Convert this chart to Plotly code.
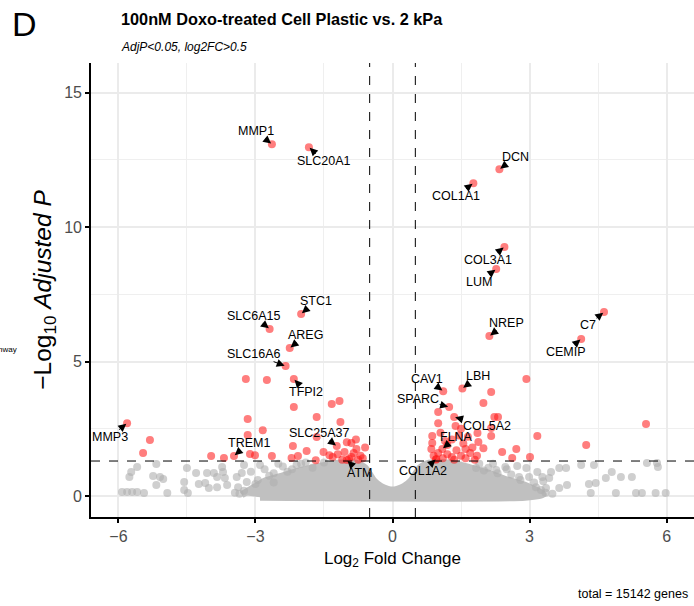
import plotly.graph_objects as go

# ---------------- data ----------------
# labeled significant genes (log2FC, -log10 adjP)
lab_genes = ["MMP1", "SLC20A1", "DCN", "COL1A1", "COL3A1", "LUM", "NREP", "C7", "CEMIP",
             "STC1", "SLC6A15", "AREG", "SLC16A6", "TFPI2", "MMP3", "TREM1", "SLC25A37",
             "ATM", "CAV1", "LBH", "SPARC", "COL5A2", "FLNA", "COL1A2"]
lab_fc = [-2.64, -1.83, 2.34, 1.77, 2.45, 2.27, 2.12, 4.63, 4.13,
          -2.00, -2.69, -2.25, -2.34, -2.16, -5.81, -3.47, -1.22,
          -1.00, 1.11, 1.53, 1.24, 1.35, 1.09, 0.96]
lab_p = [13.08, 12.97, 12.15, 11.63, 9.26, 8.44, 5.95, 6.84, 5.84,
         6.77, 6.21, 5.50, 4.83, 4.35, 2.71, 1.49, 1.86,
         1.34, 3.90, 4.00, 3.31, 2.94, 1.75, 1.38]

# other significant genes (red)
sig_fc = [-5.31, -5.46, -3.21, -2.75, -2.16, -1.33, -1.16, -1.66, -1.14, -3.17, -2.84, -3.17,
          -3.97, -3.69, -3.12, -3.01, -2.64, -2.21, -2.07, -1.88, -2.18, -1.66, -1.51, -1.31,
          -1.00, -0.90, -0.79, -1.05, -0.90, -1.68, -1.38, -0.70, -0.75, -0.65, -0.85, -1.10,
          -0.95, -0.60, -1.20, -0.80,
          2.93, 2.16, 1.99, 5.55, 4.24, 3.17, 3.01, 2.71, 2.40, 2.62, 2.23, 2.31, 2.16, 2.16,
          1.99, 1.88, 1.86, 1.38, 1.00, 1.00, 0.87, 0.87, 0.90, 1.00, 1.10, 1.20, 1.30, 1.40,
          1.50, 1.60, 1.70, 1.20, 1.30, 1.45, 1.55, 1.65, 1.75, 1.85, 1.05, 0.95, 1.35, 1.80,
          1.15, 1.50, 0.85, 1.60]
sig_p = [2.08, 1.60, 4.35, 4.31, 3.31, 3.42, 3.53, 2.94, 2.75, 2.86, 2.45, 2.27,
         1.49, 1.41, 1.56, 1.52, 1.49, 1.41, 1.49, 1.67, 1.86, 2.19, 1.64, 1.45,
         2.00, 1.97, 1.75, 1.64, 1.45, 1.33, 1.52, 1.50, 1.35, 1.40, 1.60, 1.35,
         1.38, 1.80, 1.55, 2.10,
         4.35, 3.87, 3.46, 2.68, 1.90, 2.23, 1.45, 1.75, 1.64, 1.41, 2.94, 2.94, 2.53, 2.23,
         1.78, 2.01, 2.34, 2.60, 3.12, 2.71, 2.23, 1.97, 1.50, 1.60, 1.40, 1.55, 1.45, 1.70,
         1.50, 1.40, 1.60, 1.90, 2.10, 2.25, 1.95, 2.20, 1.80, 1.50, 2.35, 1.35, 1.35, 1.35,
         2.05, 2.50, 1.75, 1.75]

# non-significant genes, scattered (grey)
ns_fc = [-5.76, -5.72, -5.59, -5.17, -5.24, -5.09, -5.02, -5.17, -5.92, -5.81, -5.70, -5.59,
         -5.44, -4.93, -4.50, -4.56, -4.56, -4.48, -4.30, -4.24, -4.10, -4.06, -4.02, -3.91,
         -3.84, -3.73, -3.71, -3.67, -3.62, -3.84, -3.41, -3.30, -3.25, -3.38, -3.19,
         -3.10, -2.95, -2.80, -2.60, -2.40, -2.20, -2.00,
         -2.90, -2.70, -2.50, -2.30, -2.10, -1.90, -1.75, -1.50, -3.00, -2.60,
         -3.35, -3.25, -3.45,
         1.83, 2.27, 2.47, 2.73, 2.93, 3.17, 3.47, 3.65, 3.80, 4.13, 4.41, 4.67, 4.80, 5.00,
         5.24, 5.57, 5.79, 5.81, 5.33, 5.46, 5.76, 5.98, 4.89, 4.34, 4.30, 4.45, 3.82, 3.65,
         3.36, 3.14, 3.28, 2.99, 3.43, 2.77,
         1.90, 2.10, 2.30, 2.60, 2.80, 2.20, 2.50, 3.10, 3.30, 2.00,
         3.35, 3.50, 3.25]
ns_p = [0.71, 0.89, 1.08, 1.19, 0.74, 0.71, 0.63, 0.41, 0.15, 0.15, 0.15, 0.15,
        0.11, 0.11, 1.04, 0.52, 0.22, 0.11, 0.86, 0.45, 0.48, 0.86, 0.30, 0.86,
        0.71, 1.08, 0.89, 0.67, 0.41, 0.33, 0.71, 0.86, 1.15, 0.33, 0.52,
        0.90, 0.60, 1.00, 0.85, 1.10, 1.00, 1.20,
        1.15, 0.75, 1.20, 0.90, 1.15, 1.25, 1.05, 1.25, 0.45, 0.50,
        0.08, 0.20, 0.12,
        1.04, 0.97, 1.08, 1.12, 1.04, 0.89, 0.89, 1.04, 1.04, 1.15, 1.15, 0.67, 0.89, 0.71,
        0.71, 1.23, 1.23, 1.08, 0.11, 0.11, 0.11, 0.11, 0.11, 0.11, 0.45, 0.48, 0.41, 0.30,
        0.30, 0.33, 0.71, 0.71, 0.67, 0.71,
        1.20, 1.05, 0.85, 0.80, 0.60, 1.20, 1.00, 0.50, 0.55, 0.95,
        0.12, 0.08, 0.22]

# outline of the dense non-significant cloud
core_fc = [-3.3, -3.0, -2.8, -2.4, -2.0, -1.6, -1.2, -0.8, -0.6, -0.5, -0.4, -0.25, -0.1,
           0.0, 0.1, 0.25, 0.4, 0.5, 0.6, 0.8, 1.3, 1.7, 2.1, 2.5, 2.9, 3.1, 3.3, 2.9, -2.9]
core_p = [0.05, 0.35, 0.55, 0.75, 0.95, 1.10, 1.22, 1.22, 1.05, 0.80, 0.55, 0.35, 0.25,
          0.22, 0.25, 0.35, 0.55, 0.80, 1.05, 1.22, 1.22, 1.05, 0.85, 0.60, 0.40, 0.25,
          0.05, -0.05, -0.05]

# label offsets (pixels) of text centre relative to its point
lab_ax = [-16, 15, 16, -17, -16, -17, 17, -16, -15, 15, -16, 16, -32, 12, -17, 15, -17, 13,
          -16, 16, -31, 33, 14, -13]
lab_ay = [-13, 14, -12, 13, 13, 13, -13, 13, 13, -13, -13, -13, -12, 13, 14, -13, -13, 13,
          -12, -12, -8, 9, -12, 12]

fig = go.Figure()
fig.add_trace(go.Scatter(x=core_fc, y=core_p, mode="lines", fill="toself",
                         fillcolor="rgb(192,192,192)",
                         line=dict(color="rgb(192,192,192)", width=7, shape="spline",
                                   smoothing=0.6),
                         hoverinfo="skip", showlegend=False))
fig.add_trace(go.Scatter(x=ns_fc, y=ns_p, mode="markers",
                         marker=dict(size=8, color="rgba(175,175,175,0.6)", line=dict(width=0)),
                         showlegend=False))
fig.add_trace(go.Scatter(x=sig_fc + lab_fc, y=sig_p + lab_p, mode="markers",
                         marker=dict(size=8, color="rgba(255,20,20,0.55)", line=dict(width=0)),
                         showlegend=False))

LABEL_FONT = dict(family="Liberation Sans, Arial", size=12.5, color="black")
annotations = []
for g, x, y, ax, ay in zip(lab_genes, lab_fc, lab_p, lab_ax, lab_ay):
    annotations.append(dict(x=x, y=y, xref="x", yref="y", text=g, showarrow=True,
                            ax=ax, ay=ay, arrowhead=2, arrowsize=1.6, arrowwidth=1,
                            arrowcolor="black", standoff=1, startstandoff=0,
                            borderpad=0, font=LABEL_FONT))

# page layout in pixels
L, R, T, B = 91, 0, 63, 89
W, H = 694, 606
pw, ph = W - L - R, H - T - B


def px(x):
    return (x - L) / pw


def py(y):
    return (H - B - y) / ph


annotations += [
    dict(text="D", x=px(10), y=py(24), xref="paper", yref="paper", xanchor="left",
         yanchor="middle", showarrow=False,
         font=dict(family="Liberation Sans, Arial", size=34, color="black")),
    dict(text="<b>100nM Doxo-treated Cell Plastic vs. 2 kPa</b>", x=px(119), y=py(19),
         xref="paper", yref="paper", xanchor="left", yanchor="middle", showarrow=False,
         font=dict(family="Liberation Sans, Arial", size=16.3, color="black")),
    dict(text="<i>AdjP<0.05, log2FC>0.5</i>", x=px(119), y=py(47), xref="paper",
         yref="paper", xanchor="left", yanchor="middle", showarrow=False,
         font=dict(family="Liberation Sans, Arial", size=12, color="black")),
    dict(text="total = 15142 genes", x=px(690), y=py(594), xref="paper", yref="paper",
         xanchor="right", yanchor="middle", showarrow=False,
         font=dict(family="Liberation Sans, Arial", size=12.5, color="black")),
    dict(text="Pathway", x=px(19), y=py(349), xref="paper", yref="paper",
         xanchor="right", yanchor="middle", showarrow=False,
         font=dict(family="Liberation Sans, Arial", size=8, color="black")),
]

shapes = [
    dict(type="line", xref="paper", yref="y", x0=0, x1=1, y0=1.301, y1=1.301,
         line=dict(color="black", width=1, dash="dash"), layer="above"),
    dict(type="line", xref="x", yref="paper", x0=-0.5, x1=-0.5, y0=0, y1=1,
         line=dict(color="black", width=1, dash="dash"), layer="above"),
    dict(type="line", xref="x", yref="paper", x0=0.5, x1=0.5, y0=0, y1=1,
         line=dict(color="black", width=1, dash="dash"), layer="above"),
]

axis_common = dict(showline=True, linecolor="black", linewidth=1.6, ticks="outside",
                   ticklen=4, tickwidth=1.6, tickcolor="black", zeroline=False,
                   showgrid=True, gridcolor="#EBEBEB", gridwidth=1.8,
                   tickfont=dict(family="Liberation Sans, Arial", size=16, color="#4D4D4D"),
                   mirror=False)

fig.update_layout(
    width=W, height=H, margin=dict(l=L, r=R, t=T, b=B, pad=0),
    paper_bgcolor="white", plot_bgcolor="white",
    font=dict(family="Liberation Sans, Arial"),
    annotations=annotations, shapes=shapes,
    xaxis=dict(range=[-6.6, 6.6], tickvals=[-6, -3, 0, 3, 6],
               minor=dict(tickvals=[-4.5, -1.5, 1.5, 4.5], showgrid=True,
                          gridcolor="#EFEFEF", gridwidth=1, ticks=""),
               title=dict(text="Log<sub>2</sub> Fold Change", standoff=8,
                          font=dict(size=17, color="black")),
               **axis_common),
    yaxis=dict(range=[-0.78, 16.1], tickvals=[0, 5, 10, 15],
               minor=dict(tickvals=[2.5, 7.5, 12.5], showgrid=True,
                          gridcolor="#EFEFEF", gridwidth=1, ticks=""),
               title=dict(text="\u2212Log<sub>10</sub> <i>Adjusted P</i>", standoff=6,
                          font=dict(size=24.5, color="black")),
               **axis_common),
)

fig.write_html("out.html")
